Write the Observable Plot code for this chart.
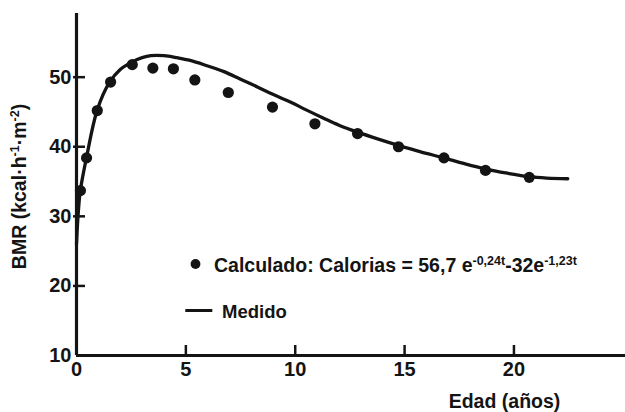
<!DOCTYPE html>
<html><head><meta charset="utf-8">
<script src="https://cdn.jsdelivr.net/npm/d3@7"></script>
<script src="https://cdn.jsdelivr.net/npm/@observablehq/plot@0.6"></script>
<style>
html,body{margin:0;padding:0;background:#fff;}
#chart svg{display:block;}
</style></head><body><div id="chart"></div>
<script>
// Calculated points (Calculado)
const calcAge = [0.18, 0.46, 0.95, 1.56, 2.55, 3.49, 4.43, 5.41, 6.94, 8.96, 10.9, 12.85, 14.72, 16.8, 18.7, 20.7];
const calcBMR = [33.7, 38.4, 45.2, 49.3, 51.8, 51.3, 51.2, 49.6, 47.8, 45.7, 43.3, 41.9, 40.0, 38.4, 36.6, 35.6];
// Measured curve (Medido)
const measAge = [0, 0.08, 0.18, 0.46, 0.95, 1.5, 2.0, 2.55, 3.0, 3.4, 4.0, 4.6, 5.2, 6.0, 6.74, 7.5, 8.27, 9.0, 9.8, 10.5, 11.3, 12.0, 12.85, 13.8, 14.72, 15.7, 16.8, 17.7, 18.7, 19.7, 20.7, 21.5, 22.46];
const measBMR = [26.0, 30.5, 33.8, 38.5, 45.3, 49.2, 51.1, 52.2, 52.8, 53.1, 53.1, 52.8, 52.4, 51.6, 50.8, 49.7, 48.6, 47.5, 46.4, 45.3, 44.1, 43.1, 42.1, 41.1, 40.2, 39.3, 38.4, 37.6, 36.8, 36.2, 35.7, 35.5, 35.4];
const xTicks = [0, 5, 10, 15, 20];
const yTicks = [10, 20, 30, 40, 50];
const xLabel = "Edad (años)";
const yLabel = "BMR (kcal·h^{-1}·m^{-2})";
const legendCalc = "Calculado: Calorias = 56,7 e^{-0,24t}-32e^{-1,23t}";
const legendMeas = "Medido";

const calc = calcAge.map((a, i) => ({age: a, bmr: calcBMR[i]}));
const meas = measAge.map((a, i) => ({age: a, bmr: measBMR[i]}));
const ink = "#141414";
const font = "'Liberation Sans', Arial, Helvetica, sans-serif";

const lineSymbol = {draw(ctx) { ctx.moveTo(-13.5, 0); ctx.lineTo(13.5, 0); }};

const chart = Plot.plot({
  width: 625, height: 412,
  marginLeft: 76, marginRight: 0, marginTop: 13, marginBottom: 57,
  style: {fontFamily: font, fontWeight: "bold", fontSize: "20px", color: ink, background: "#fff", overflow: "visible"},
  x: {domain: [0, 25.1]},
  y: {domain: [10, 59.15]},
  marks: [
    Plot.axisX({ticks: xTicks, tickSize: 0, tickPadding: 6, label: null, fill: ink, fontSize: 20}),
    Plot.axisX({ticks: xTicks.filter(d => d > 0), tickSize: -10, tickFormat: () => "", label: null, strokeWidth: 2.5, stroke: ink}),
    Plot.axisY({ticks: yTicks, tickSize: 0, tickPadding: 5, label: null, fill: ink, fontSize: 20}),
    Plot.axisY({ticks: yTicks.filter(d => d > 10), tickSize: -9, tickFormat: () => "", label: null, strokeWidth: 2.5, stroke: ink}),
    Plot.axisY({ticks: yTicks.filter(d => d > 10), tickSize: 3, tickFormat: () => "", label: null, strokeWidth: 2.5, stroke: ink}),
    Plot.ruleX([xTicks[0]], {stroke: ink, strokeWidth: 3.2}),
    Plot.ruleY([yTicks[0]], {stroke: ink, strokeWidth: 3.2}),
    Plot.line(meas, {x: "age", y: "bmr", curve: "catmull-rom", stroke: ink, strokeWidth: 3.3}),
    Plot.dot(calc, {x: "age", y: "bmr", r: 5.6, fill: ink, stroke: "none"}),
    // legend
    Plot.dot([legendCalc], {frameAnchor: "top-left", dx: 119, dy: 250.5, r: 4.9, fill: ink, stroke: "none"}),
    Plot.text([legendCalc], {frameAnchor: "top-left", dx: 137.5, dy: 252, text: d => d, textAnchor: "start", lineAnchor: "middle", fontSize: 19.5, fontWeight: "bold", fill: ink}),
    Plot.dot([legendMeas], {frameAnchor: "top-left", dx: 122.3, dy: 297, symbol: lineSymbol, r: 5, fill: "none", stroke: ink, strokeWidth: 3}),
    Plot.text([legendMeas], {frameAnchor: "top-left", dx: 145.5, dy: 298.5, text: d => d, textAnchor: "start", lineAnchor: "middle", fontSize: 18.5, fontWeight: "bold", fill: ink}),
    // axis titles
    Plot.text([xLabel], {frameAnchor: "bottom-right", dx: -121, dy: 46.5, text: d => d, textAnchor: "middle", lineAnchor: "middle", fontSize: 19.5, fontWeight: "bold", fill: ink}),
    Plot.text([yLabel], {frameAnchor: "left", dx: -57, dy: 2, rotate: -90, text: d => d, textAnchor: "middle", lineAnchor: "middle", fontSize: 19.5, fontWeight: "bold", fill: ink})
  ]
});

// Turn ^{...} into real superscript tspans
chart.querySelectorAll("text").forEach(t => {
  const s = t.textContent;
  if (!s.includes("^{")) return;
  const parts = s.split(/\^\{([^}]*)\}/);
  while (t.firstChild) t.removeChild(t.firstChild);
  let raised = false;
  parts.forEach((p, i) => {
    if (!p) return;
    const ts = document.createElementNS("http://www.w3.org/2000/svg", "tspan");
    ts.textContent = p;
    const sup = i % 2 === 1;
    if (sup) { ts.setAttribute("font-size", "12.5"); if (!raised) { ts.setAttribute("dy", "-0.55em"); raised = true; } }
    else if (raised) { ts.setAttribute("dy", "0.36em"); raised = false; }
    t.appendChild(ts);
  });
});

document.getElementById("chart").appendChild(chart);
</script>
</body></html>
